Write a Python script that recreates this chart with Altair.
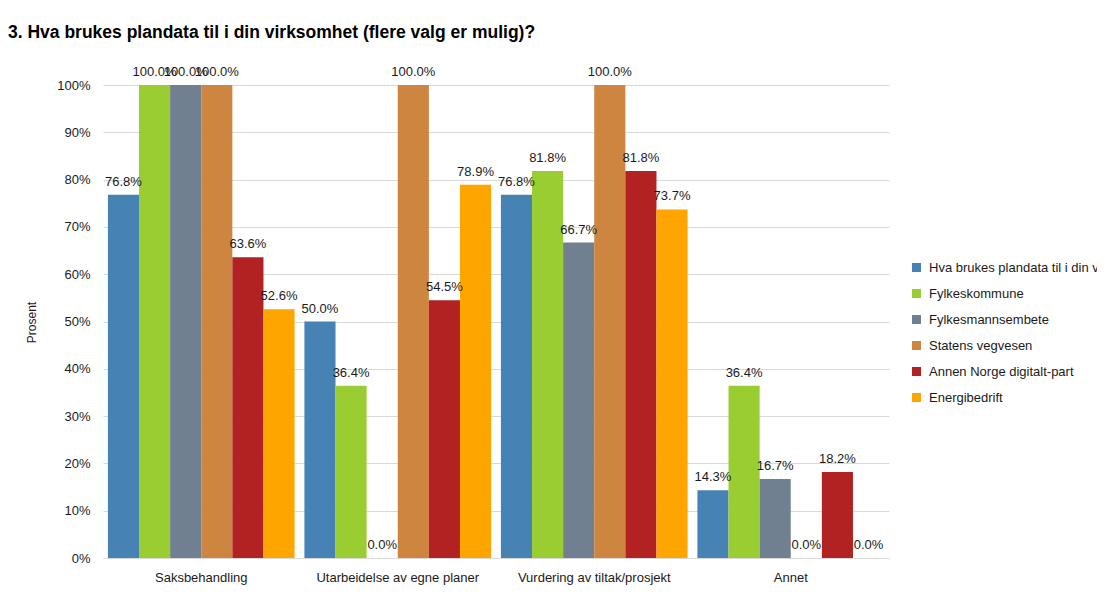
import altair as alt
import pandas as pd

categories = ["Saksbehandling", "Utarbeidelse av egne planer", "Vurdering av tiltak/prosjekt", "Annet"]
series = [
    "Hva brukes plandata til i din virksomhet (flere valg er mulig)?",
    "Fylkeskommune",
    "Fylkesmannsembete",
    "Statens vegvesen",
    "Annen Norge digitalt-part",
    "Energibedrift",
]
colors = ["#4682B4", "#9ACD32", "#708090", "#CD853F", "#B22222", "#FFA500"]
values = {
    series[0]: [76.8, 50.0, 76.8, 14.3],
    series[1]: [100.0, 36.4, 81.8, 36.4],
    series[2]: [100.0, 0.0, 66.7, 16.7],
    series[3]: [100.0, 100.0, 100.0, 0.0],
    series[4]: [63.6, 54.5, 81.8, 18.2],
    series[5]: [52.6, 78.9, 73.7, 0.0],
}

rows = []
for s in series:
    for c, v in zip(categories, values[s]):
        rows.append({"Kategori": c, "Serie": s, "Andel": v / 100.0})
df = pd.DataFrame(rows)

FONT = "Liberation Sans"

base = alt.Chart(df).encode(
    x=alt.X("Kategori:N", sort=categories,
            scale=alt.Scale(paddingInner=0.05, paddingOuter=0.025),
            axis=alt.Axis(title=None, labelAngle=0, ticks=False, domain=True,
                          domainColor="#d9d9d9", labelFontSize=13, labelFont=FONT,
                          labelColor="#1a1a1a", labelPadding=13)),
    xOffset=alt.XOffset("Serie:N", sort=series,
                        scale=alt.Scale(paddingInner=0, paddingOuter=0)),
    y=alt.Y("Andel:Q", scale=alt.Scale(domain=[0, 1]),
            axis=alt.Axis(title="Prosent", format=".0%", values=[i / 10 for i in range(11)],
                          grid=True, gridColor="#d9d9d9", domain=False, ticks=False,
                          labelFontSize=13, labelFont=FONT, labelColor="#1a1a1a",
                          labelPadding=13, titleFont=FONT, titleFontSize=12,
                          titleFontWeight="normal", titleColor="#1a1a1a",
                          titleX=-65, titleY=237)),
)

bars = base.mark_bar().encode(
    color=alt.Color("Serie:N", sort=series,
                    scale=alt.Scale(domain=series, range=colors),
                    legend=alt.Legend(title=None, orient="none", legendX=807, legendY=176,
                                      symbolType="square", symbolSize=81, symbolStrokeWidth=0,
                                      labelFont=FONT, labelFontSize=13, labelColor="#1a1a1a",
                                      labelLimit=600, rowPadding=12, labelOffset=6,
                                      padding=0)),
)

labels = base.mark_text(baseline="bottom", dy=-6, font=FONT, fontSize=13, color="#1a1a1a").encode(
    text=alt.Text("Andel:Q", format=".1%"),
)

chart = alt.layer(bars, labels).properties(
    width=786,
    height=473,
    autosize=alt.AutoSizeParams(type="none"),
    padding={"left": 95, "top": 77, "right": 208, "bottom": 33},
    title=alt.TitleParams(
        "3. Hva brukes plandata til i din virksomhet (flere valg er mulig)?",
        anchor="start", frame="group", dx=-95, offset=25,
        font=FONT, fontSize=17.5, fontWeight="bold", color="#000000",
    ),
).configure_view(stroke=None)

chart.save("out.html", embed_options={"renderer": "svg", "actions": False})
